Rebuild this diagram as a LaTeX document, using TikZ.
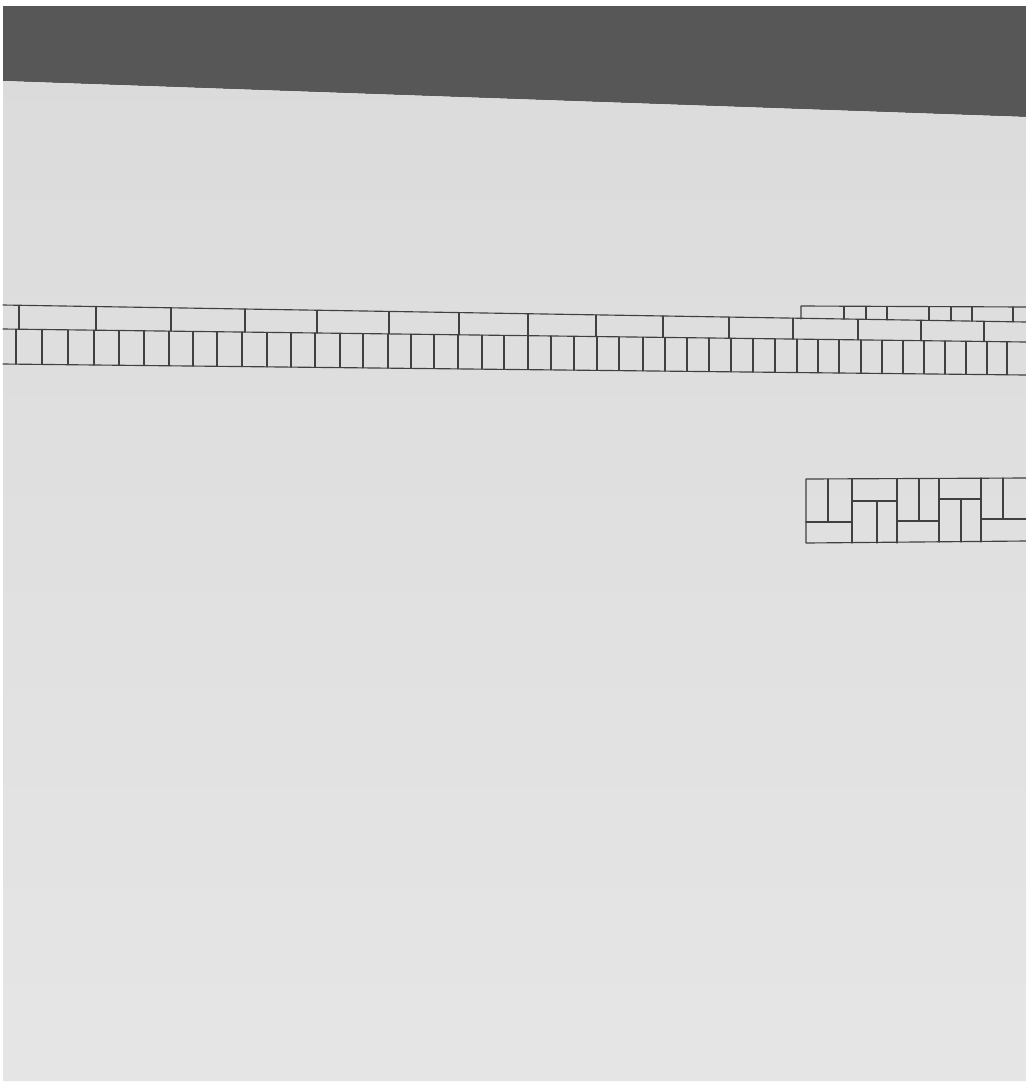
\documentclass[tikz,border=0pt]{standalone}
\usetikzlibrary{calc}
\definecolor{desk}{gray}{0.34}
\definecolor{papertop}{gray}{0.86}
\definecolor{paperbot}{gray}{0.9}
\definecolor{pencil}{gray}{0.25}
\begin{document}
\begin{tikzpicture}[x=0.02cm, y=-0.02cm,
  ink/.style={draw=pencil, line width=0.65pt, line cap=round, line join=round},
]
  % photo frame: desk and sheet
  \useasboundingbox (0,0) rectangle (1026,1083);
  \fill[white] (0,0) rectangle (1026,1083);
  \fill[desk] (3,6) -- (1026,6) -- (1026,117) -- (3,81) -- cycle;
  \shade[top color=papertop, bottom color=paperbot] (3,81) -- (1026,117) -- (1026,1081) -- (3,1081) -- cycle;

  % long strip: rails
  \draw[ink] (3,305) -- (1026,322);
  \draw[ink] (3,329) -- (1026,342);
  \draw[ink] (3,364) -- (1026,375);
  \draw[ink] (801,319) -- (801,306) -- (1026,307);
  % upright dominoes
  \foreach \x in {16,42,68,94,119,144,169,193,217,242,267,291,315,340,363,388,411,434,458,482,504,528,551,574,597,619,643,665,687,709,731,753,775,797,818,839,861,882,903,924,945,966,987,1007}
    \draw[ink] (\x,{329+0.0127*\x}) -- (\x,{364+0.0107*\x});
  % long bricks
  \foreach \x in {19,96,171,245,317,389,459,528,596,663,729,793,858,921,984}
    \draw[ink] (\x,{305+0.0166*\x}) -- (\x,{329+0.0127*\x});
  % small bricks on top
  \foreach \x in {844,866,887,929,951,972,1013}
    \draw[ink] (\x,{306+0.001*\x}) -- (\x,{305+0.0166*\x});

  % small block
  \draw[ink] (1026,478) -- (806,479) -- (806,543) -- (1026,541);
  \draw[ink] (828,479) -- (828,522);
  \draw[ink] (806,522) -- (852,522);
  \draw[ink] (852,479) -- (852,543);
  \draw[ink] (852,501) -- (897,501);
  \draw[ink] (877,501) -- (877,543);
  \draw[ink] (897,479) -- (897,543);
  \draw[ink] (919,479) -- (919,521);
  \draw[ink] (897,521) -- (939,521);
  \draw[ink] (939,479) -- (939,542);
  \draw[ink] (939,499) -- (981,499);
  \draw[ink] (961,499) -- (961,542);
  \draw[ink] (981,478) -- (981,542);
  \draw[ink] (1003,478) -- (1003,519);
  \draw[ink] (981,519) -- (1026,519);
\end{tikzpicture}
\end{document}
